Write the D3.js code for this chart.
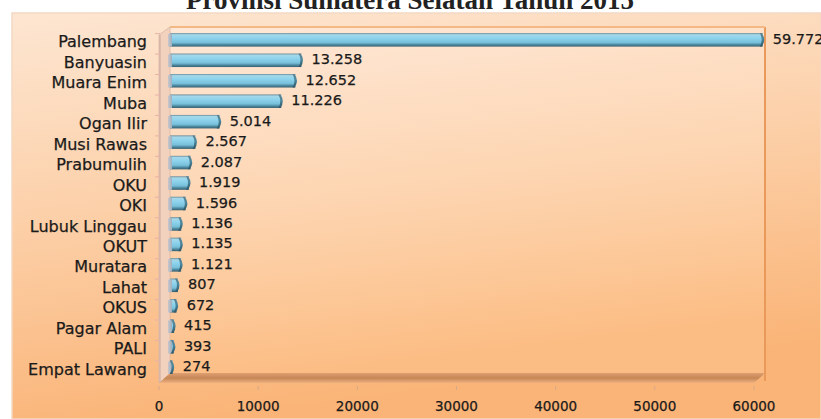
<!DOCTYPE html>
<html><head><meta charset="utf-8">
<script src="https://cdn.jsdelivr.net/npm/d3@7"></script>
<style>html,body{margin:0;padding:0;background:#fff;}svg{display:block;}</style>
</head><body>
<script>
const categories = ["Palembang","Banyuasin","Muara Enim","Muba","Ogan Ilir","Musi Rawas","Prabumulih","OKU","OKI","Lubuk Linggau","OKUT","Muratara","Lahat","OKUS","Pagar Alam","PALI","Empat Lawang"];
const values = [59772,13258,12652,11226,5014,2567,2087,1919,1596,1136,1135,1121,807,672,415,393,274];
const valueLabels = ["59.772","13.258","12.652","11.226","5.014","2.567","2.087","1.919","1.596","1.136","1.135","1.121","807","672","415","393","274"];
const tickValues = [0,10000,20000,30000,40000,50000,60000];
const title = "Provinsi Sumatera Selatan Tahun 2015";

const W = 821, H = 419;
const svg = d3.select("body").append("svg").attr("width", W).attr("height", H);
const defs = svg.append("defs");

function lin(id, x1,y1,x2,y2, stops){
  const g = defs.append("linearGradient").attr("id", id)
    .attr("x1",x1).attr("y1",y1).attr("x2",x2).attr("y2",y2);
  stops.forEach(s => g.append("stop").attr("offset", s[0]).attr("stop-color", s[1]));
}
lin("bgGrad", "0","0","0.25","1", [[0,"#fde6d2"],[0.5,"#fccfa7"],[1,"#fab477"]]);
lin("wallGrad", "0","0","0.2","1", [[0,"#fee8d7"],[0.55,"#fdd4af"],[1,"#fcbd84"]]);
lin("floorGrad", "0","0","0","1", [[0,"#e09f70"],[0.5,"#c68656"],[1,"#eeb180"]]);
lin("barGrad", "0","0","0","1", [[0,"#67899a"],[0.12,"#a5d8e8"],[0.35,"#8fd4ee"],[0.7,"#78c0da"],[0.86,"#4b889f"],[1,"#385f70"]]);
lin("capGrad", "0","0","0","1", [[0,"#5c7f8e"],[0.4,"#4d8aa0"],[1,"#2f5566"]]);
lin("sideGrad", "0","0","1","0", [[0,"#c9c6cc"],[1,"#9fb0bd"]]);

const depth = 11, lift = 8;
const x = d3.scaleLinear().domain([0, 60000]).range([159, 754]);
const y = d3.scaleBand().domain(categories).range([29, 378]).paddingInner(0.34).paddingOuter(0.2);

// chart area background
svg.append("rect").attr("x", 12).attr("y", 13).attr("width", W - 12).attr("height", H - 13)
  .attr("fill", "url(#bgGrad)").attr("stroke", "#f4d9c4").attr("stroke-width", 1.5);

// back wall
const wallL = x(0) + depth, wallR = x(60000) + depth, wallT = 27, wallB = 375;
svg.append("rect").attr("x", wallL).attr("y", wallT).attr("width", wallR - wallL).attr("height", wallB - wallT)
  .attr("fill", "url(#wallGrad)");
svg.append("line").attr("x1", wallR).attr("x2", wallR).attr("y1", wallT).attr("y2", wallB + 6)
  .attr("stroke", "#e99a5a").attr("stroke-width", 2);
svg.append("line").attr("x1", wallL).attr("x2", wallR).attr("y1", wallT).attr("y2", wallT)
  .attr("stroke", "#f3b883").attr("stroke-width", 2);

// left side wall
svg.append("path").attr("d", `M${x(0)},${wallT + lift} L${wallL},${wallT} L${wallL},${wallB} L${x(0)},${wallB + lift} Z`)
  .attr("fill", "#f3d2bd").attr("stroke", "#d9b5a5").attr("stroke-width", 0.8);
svg.append("line").attr("x1", x(0) + 1).attr("x2", x(0) + 1).attr("y1", wallT + lift).attr("y2", wallB + lift)
  .attr("stroke", "#c6a7a0").attr("stroke-width", 1);

// floor
svg.append("path").attr("d", `M${x(0)},${wallB + lift} L${wallL},${wallB - 2} L${wallR},${wallB - 2} L${x(60000)},${wallB + lift} Z`)
  .attr("fill", "url(#floorGrad)");

// category ticks on left
svg.append("g").selectAll("line").data(categories).join("line")
  .attr("x1", x(0) - 4).attr("x2", x(0) + 1)
  .attr("y1", d => y(d) - (y.step() - y.bandwidth()) / 2 + 4)
  .attr("y2", d => y(d) - (y.step() - y.bandwidth()) / 2 + 4)
  .attr("stroke", "#e7b3a8").attr("stroke-width", 1);

// bars
const bars = svg.append("g");
categories.forEach((c, i) => {
  const x0 = x(0) + depth, x1 = x(values[i]) + depth;
  const by = y(c), bh = y.bandwidth();
  bars.append("rect").attr("x", x0).attr("y", by).attr("width", Math.max(1, x1 - x0)).attr("height", bh)
    .attr("fill", "url(#barGrad)");
  bars.append("rect").attr("x", x0 - 2).attr("y", by + 1).attr("width", 4).attr("height", bh - 1)
    .attr("fill", "url(#sideGrad)");
  bars.append("path")
    .attr("d", `M${x1 - 1},${by} Q${x1 + 4},${by + bh / 2} ${x1 - 1},${by + bh} L${x1 - 3},${by + bh} Q${x1 + 1},${by + bh / 2} ${x1 - 3},${by} Z`)
    .attr("fill", "url(#capGrad)");
});

const txt = sel => sel.attr("font-family", "DejaVu Sans").attr("fill", "#1a1a1a")
  .attr("stroke", "#1a1a1a").attr("stroke-width", 0.25);

// value labels
svg.append("g").selectAll("text").data(categories).join("text")
  .attr("x", (d, i) => x(values[i]) + depth + 10)
  .attr("y", d => y(d) + y.bandwidth() / 2 - 1)
  .attr("dy", "0.35em").attr("font-size", 14.5)
  .call(txt)
  .text((d, i) => valueLabels[i]);

// category labels
svg.append("g").selectAll("text").data(categories).join("text")
  .attr("x", 147)
  .attr("y", d => y(d) + y.bandwidth() / 2 + 2)
  .attr("dy", "0.35em").attr("text-anchor", "end").attr("font-size", 16)
  .call(txt)
  .text(d => d);

// x axis
const axisG = svg.append("g").attr("transform", `translate(0,${wallB + lift + 3})`);
axisG.selectAll("line").data(tickValues).join("line")
  .attr("x1", d => x(d)).attr("x2", d => x(d)).attr("y1", 0).attr("y2", 4)
  .attr("stroke", "#d7a98a").attr("stroke-width", 1);
axisG.selectAll("text").data(tickValues).join("text")
  .attr("x", d => x(d)).attr("y", 20).attr("dy", "0.35em")
  .attr("text-anchor", "middle").attr("font-size", 13.5)
  .call(txt)
  .text(d => String(d));

// title (top partially cut by frame, as in the reference)
svg.append("text").attr("x", 410).attr("y", 9).attr("text-anchor", "middle")
  .attr("font-family", "Liberation Serif").attr("font-weight", "bold").attr("font-size", 27)
  .attr("fill", "#222").text(title);
</script>
</body></html>
